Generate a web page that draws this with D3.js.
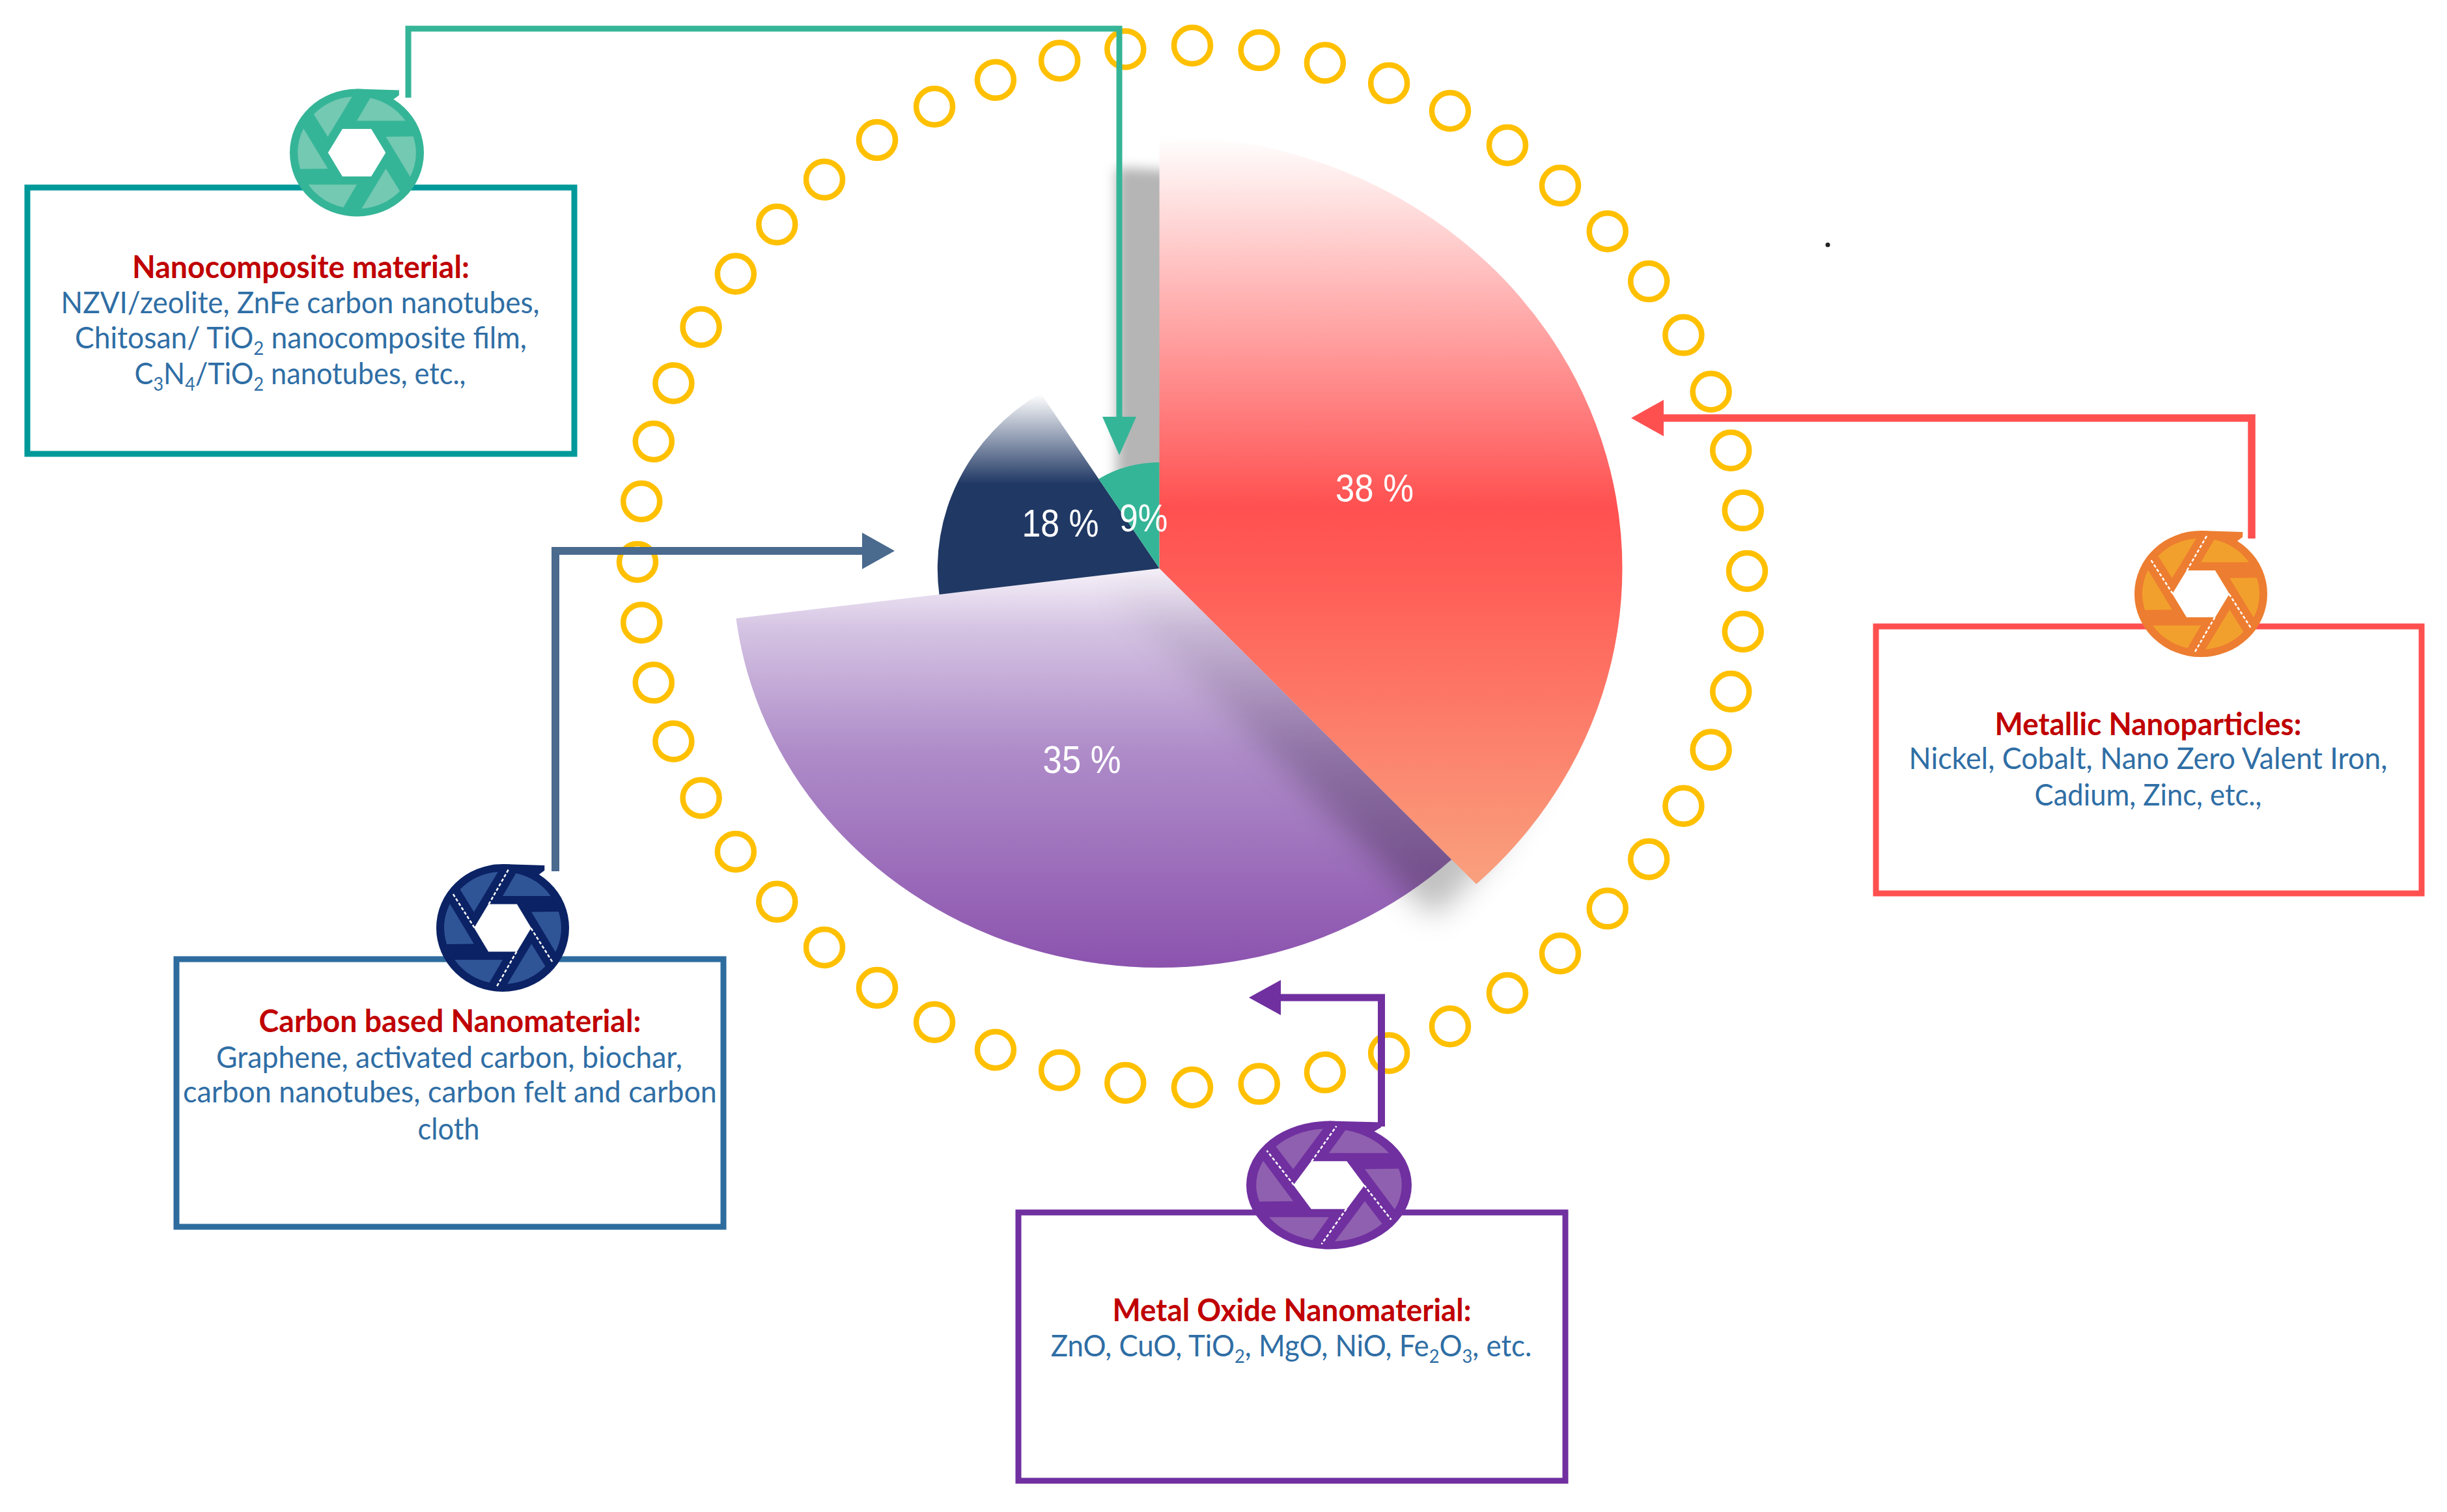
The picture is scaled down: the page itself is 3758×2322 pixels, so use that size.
<!DOCTYPE html>
<html>
<head>
<meta charset="utf-8">
<script src="https://d3js.org/d3.v7.min.js"></script>
<style>
  html, body { margin: 0; background: #fff; }
  svg { display: block; }
</style>
</head>
<body>
<div id="chart"></div>
<script>
// values
const categories = ["Metallic Nanoparticles", "Metal Oxide Nanomaterial", "Carbon based Nanomaterial", "Nanocomposite material"];
const shares = [38, 35, 18, 9];
const shareLabels = ["38 %", "35 %", "18 %", "9%"];
const boxBodies = [
  ["Nickel, Cobalt, Nano Zero Valent Iron,", "Cadium, Zinc, etc.,"],
  ["ZnO, CuO, TiO_2, MgO, NiO, Fe_2O_3, etc."],
  ["Graphene, activated carbon, biochar,", "carbon nanotubes, carbon felt and carbon", "cloth"],
  ["NZVI/zeolite, ZnFe carbon nanotubes,", "Chitosan/ TiO_2 nanocomposite film,", "C_3N_4/TiO_2 nanotubes, etc.,"]
];

const width = 3758, height = 2322;
const cx = 1780.6, cy = 873, stretch = 1.069;

// one entry per category, same order as above
const styles = [
  { box: "#FF5050", line: "#FF5050", lineW: 11.5, dark: "#ED7D31", light: "#F2A02D", ticks: true,
    rect: [2881, 962, 3719, 1372], icon: [3380, 912, 102, 97],
    title: [3299, 1129, 471], body: [[3299, 1181, 735], [3299, 1237, 349]],
    route: [[3458, 827], [3458, 642], [2550, 642]], head: [2505, 642, 50, 28] },
  { box: "#7030A0", line: "#7030A0", lineW: 11, dark: "#7030A0", light: "#9060B0", ticks: true,
    rect: [1564, 1862, 2404, 2274], icon: [2041, 1820, 127, 98.5],
    title: [1984, 2029, 551], body: [[1983, 2083, 739]],
    route: [[2121.5, 1730], [2121.5, 1532], [1962, 1532]], head: [1918, 1532, 49, 27] },
  { box: "#2E6C9E", line: "#4A6A8E", lineW: 12, dark: "#0B2265", light: "#2F5597", ticks: true,
    rect: [271, 1473, 1111, 1884], icon: [772, 1425, 102, 98],
    title: [691, 1585, 587], body: [[690, 1640, 716], [691, 1693, 820], [689, 1750, 95]],
    route: [[853, 1338], [853, 846], [1330, 846]], head: [1374, 846, 50, 28] },
  { box: "#009999", line: "#35B597", lineW: 9, dark: "#35B597", light: "#74C9B3", ticks: false,
    rect: [42, 288, 882, 697], icon: [548, 234.5, 103, 98],
    title: [462, 427, 518], body: [[461, 481, 735], [462, 535, 694], [461, 590, 509]],
    route: [[627, 150], [627, 44], [1719, 44], [1719, 645]], head: [1719, 699, 59, 26, 90] }
];
const shareWidths = [120, 120, 118, 74];
const shareNudge = [[0, -2], [-8, 5], [2, -2], [0, 0]];

const svg = d3.select("#chart").append("svg")
  .attr("width", width).attr("height", height)
  .attr("viewBox", [0, 0, width, height]);
const defs = svg.append("defs");

// stops are [y relative to the pie centre, colour, opacity]
function gradient(id, stops) {
  const s0 = stops[0][0], s1 = stops[stops.length - 1][0];
  const g = defs.append("linearGradient").attr("id", id)
    .attr("gradientUnits", "userSpaceOnUse")
    .attr("x1", 0).attr("x2", 0).attr("y1", s0).attr("y2", s1);
  stops.forEach(s => g.append("stop")
    .attr("offset", (s[0] - s0) / (s1 - s0))
    .attr("stop-color", s[1])
    .attr("stop-opacity", s[2] === undefined ? 1 : s[2]));
}
gradient("g0", [[-665, "#ffffff"], [-95, "#FF5050"], [30, "#FF5F58"], [480, "#F9A07E"]]);
gradient("g1", [[0, "#F6F2F9"], [90, "#D5C4E3"], [276, "#AF8DC9"], [616, "#8B52AE"]]);
gradient("g2", [[-268, "#ffffff"], [-130, "#203864"], [0, "#203864"]]);
gradient("g3", [[-170, "#35B597"], [0, "#35B597"]]);
gradient("shadowTop", [[-665, "#000", 0.29], [-180, "#000", 0.29], [-60, "#000", 0]]);
gradient("shadowLow", [[-60, "#000", 0], [90, "#000", 0.09], [280, "#000", 0.2], [480, "#000", 0.27]]);

function blur(id, sd) {
  defs.append("filter").attr("id", id)
    .attr("x", "-20%").attr("y", "-20%").attr("width", "140%").attr("height", "140%")
    .append("feGaussianBlur").attr("stdDeviation", sd);
}
blur("softTop", 9);
blur("softLow", 22);

// ring of yellow circles, the source spacing bunches up a little near the sides
const ringCount = 52;
const ringAngle = i => i / ringCount * 2 * Math.PI;
svg.append("g").selectAll("circle").data(d3.range(ringCount)).join("circle")
  .attr("cx", i => 1831 + 852 * Math.sin(ringAngle(i)))
  .attr("cy", i => {
    const t = ringAngle(i), s = Math.sin(t), c = Math.cos(t);
    return 870 - 800 * c + 28 * c * s * s + 7 * s;
  })
  .attr("r", 28)
  .attr("fill", "none")
  .attr("stroke", "#FFC000")
  .attr("stroke-width", 8.5);

// pie, radius also follows the value
const radius = d3.scaleLinear().domain([9, 38]).range([163, 665]);
const pie = d3.pie().sort(null).value(d => d);
const slices = pie(shares);
const arc = d3.arc().innerRadius(0).outerRadius(d => radius(d.data));
const pieTransform = `translate(${cx},${cy}) scale(${stretch},1)`;

svg.append("path").attr("transform", pieTransform).attr("d", arc(slices[1])).attr("fill", "url(#g1)");

// shadow of the big slice falls on the purple one and the page, not on the small ones
[["softTop", "shadowTop"], ["softLow", "shadowLow"]].forEach(([f, g]) => {
  svg.append("g")
    .attr("filter", `url(#${f})`)
    .attr("transform", `translate(${cx - 66},${cy + 50}) scale(${stretch},1)`)
    .append("path").attr("d", arc(slices[0])).attr("fill", `url(#${g})`);
});

const topG = svg.append("g").attr("transform", pieTransform);
[2, 3, 0].forEach(i => topG.append("path").attr("d", arc(slices[i])).attr("fill", `url(#g${i})`));

function fitText(sel, target) {
  const w = sel.node().getComputedTextLength();
  const t = sel.attr("transform") || "";
  sel.attr("transform", `${t} scale(${target / w},1)`);
}

slices.forEach((d, i) => {
  const [x, y] = arc.centroid(d);
  const t = svg.append("text")
    .attr("transform", `translate(${cx + x * stretch + shareNudge[i][0]},${cy + y + 21 + shareNudge[i][1]})`)
    .attr("text-anchor", "middle")
    .attr("font-family", "Liberation Sans")
    .attr("font-size", 60)
    .attr("fill", "#fff")
    .text(shareLabels[i]);
  fitText(t, shareWidths[i]);
});

const line = d3.line();

function addIcon(st) {
  const [ix, iy, rx, ry] = st.icon;
  const g = svg.append("g").attr("transform", `translate(${ix},${iy}) scale(${rx},${ry})`);
  g.append("circle").attr("r", 1).attr("fill", st.dark);
  g.append("path").attr("d", "M0,-1 L.63,-.98 L.63,-.9 L.5,-.8 L0,-.8 Z").attr("fill", st.dark);
  d3.range(6).forEach(k => {
    g.append("path")
      .attr("transform", `rotate(${k * 60})`)
      .attr("d", "M0,-.5 L.2,-.857 A.88,.88 0 0 1 .724,-.5 Z")
      .attr("fill", st.light);
  });
  const hex = d3.range(6).map(k => [0.43 * Math.cos(k * Math.PI / 3), 0.43 * Math.sin(k * Math.PI / 3)]);
  g.append("path").attr("d", line(hex) + "Z").attr("fill", "#fff");
  if (st.ticks) {
    [0, 120, 180, 300].forEach(a => {
      g.append("path")
        .attr("transform", `rotate(${a})`)
        .attr("d", "M-.21,-.37 L.09,-.92")
        .attr("stroke", "#fff")
        .attr("stroke-width", 2.5)
        .attr("stroke-dasharray", "5 3")
        .attr("vector-effect", "non-scaling-stroke");
    });
  }
}

function addLine(text, x, y, w, size, color, weight) {
  const t = svg.append("text")
    .attr("transform", `translate(${x},${y})`)
    .attr("text-anchor", "middle")
    .attr("font-family", "Lato")
    .attr("font-size", size)
    .attr("font-weight", weight)
    .attr("fill", color);
  // "_2" marks a subscript
  let low = false;
  text.split(/_(\d)/).forEach((part, j) => {
    if (!part) return;
    const sub = j % 2 === 1;
    const span = t.append("tspan").text(part);
    if (sub) { span.attr("font-size", size * 0.62).attr("dy", 10); low = true; }
    else if (low) { span.attr("dy", -10); low = false; }
  });
  fitText(t, w);
}

categories.forEach((name, i) => {
  const st = styles[i];
  const [x0, y0, x1, y1] = st.rect;
  svg.append("rect")
    .attr("x", x0).attr("y", y0)
    .attr("width", x1 - x0).attr("height", y1 - y0)
    .attr("fill", "none")
    .attr("stroke", st.box)
    .attr("stroke-width", 9);

  svg.append("path")
    .attr("d", line(st.route))
    .attr("fill", "none")
    .attr("stroke", st.line)
    .attr("stroke-width", st.lineW);

  // arrow head pointing at the pie
  const [hx, hy, hl, hw, rot] = st.head;
  const dir = st.route[st.route.length - 2][0] > hx ? 1 : -1;
  const headPath = rot
    ? `M${hx},${hy} L${hx - hw},${hy - hl} L${hx + hw},${hy - hl} Z`
    : `M${hx},${hy} L${hx + dir * hl},${hy - hw} L${hx + dir * hl},${hy + hw} Z`;
  svg.append("path").attr("d", headPath).attr("fill", st.line);

  addIcon(st);

  addLine(name + ":", st.title[0], st.title[1], st.title[2], 47, "#C00000", 700);
  boxBodies[i].forEach((txt, k) => {
    const b = st.body[k];
    addLine(txt, b[0], b[1], b[2], 46, "#2F6EA5", 400);
  });
});

// stray dot in the source figure
svg.append("circle").attr("cx", 2807).attr("cy", 376).attr("r", 3.5).attr("fill", "#222");
</script>
</body>
</html>
